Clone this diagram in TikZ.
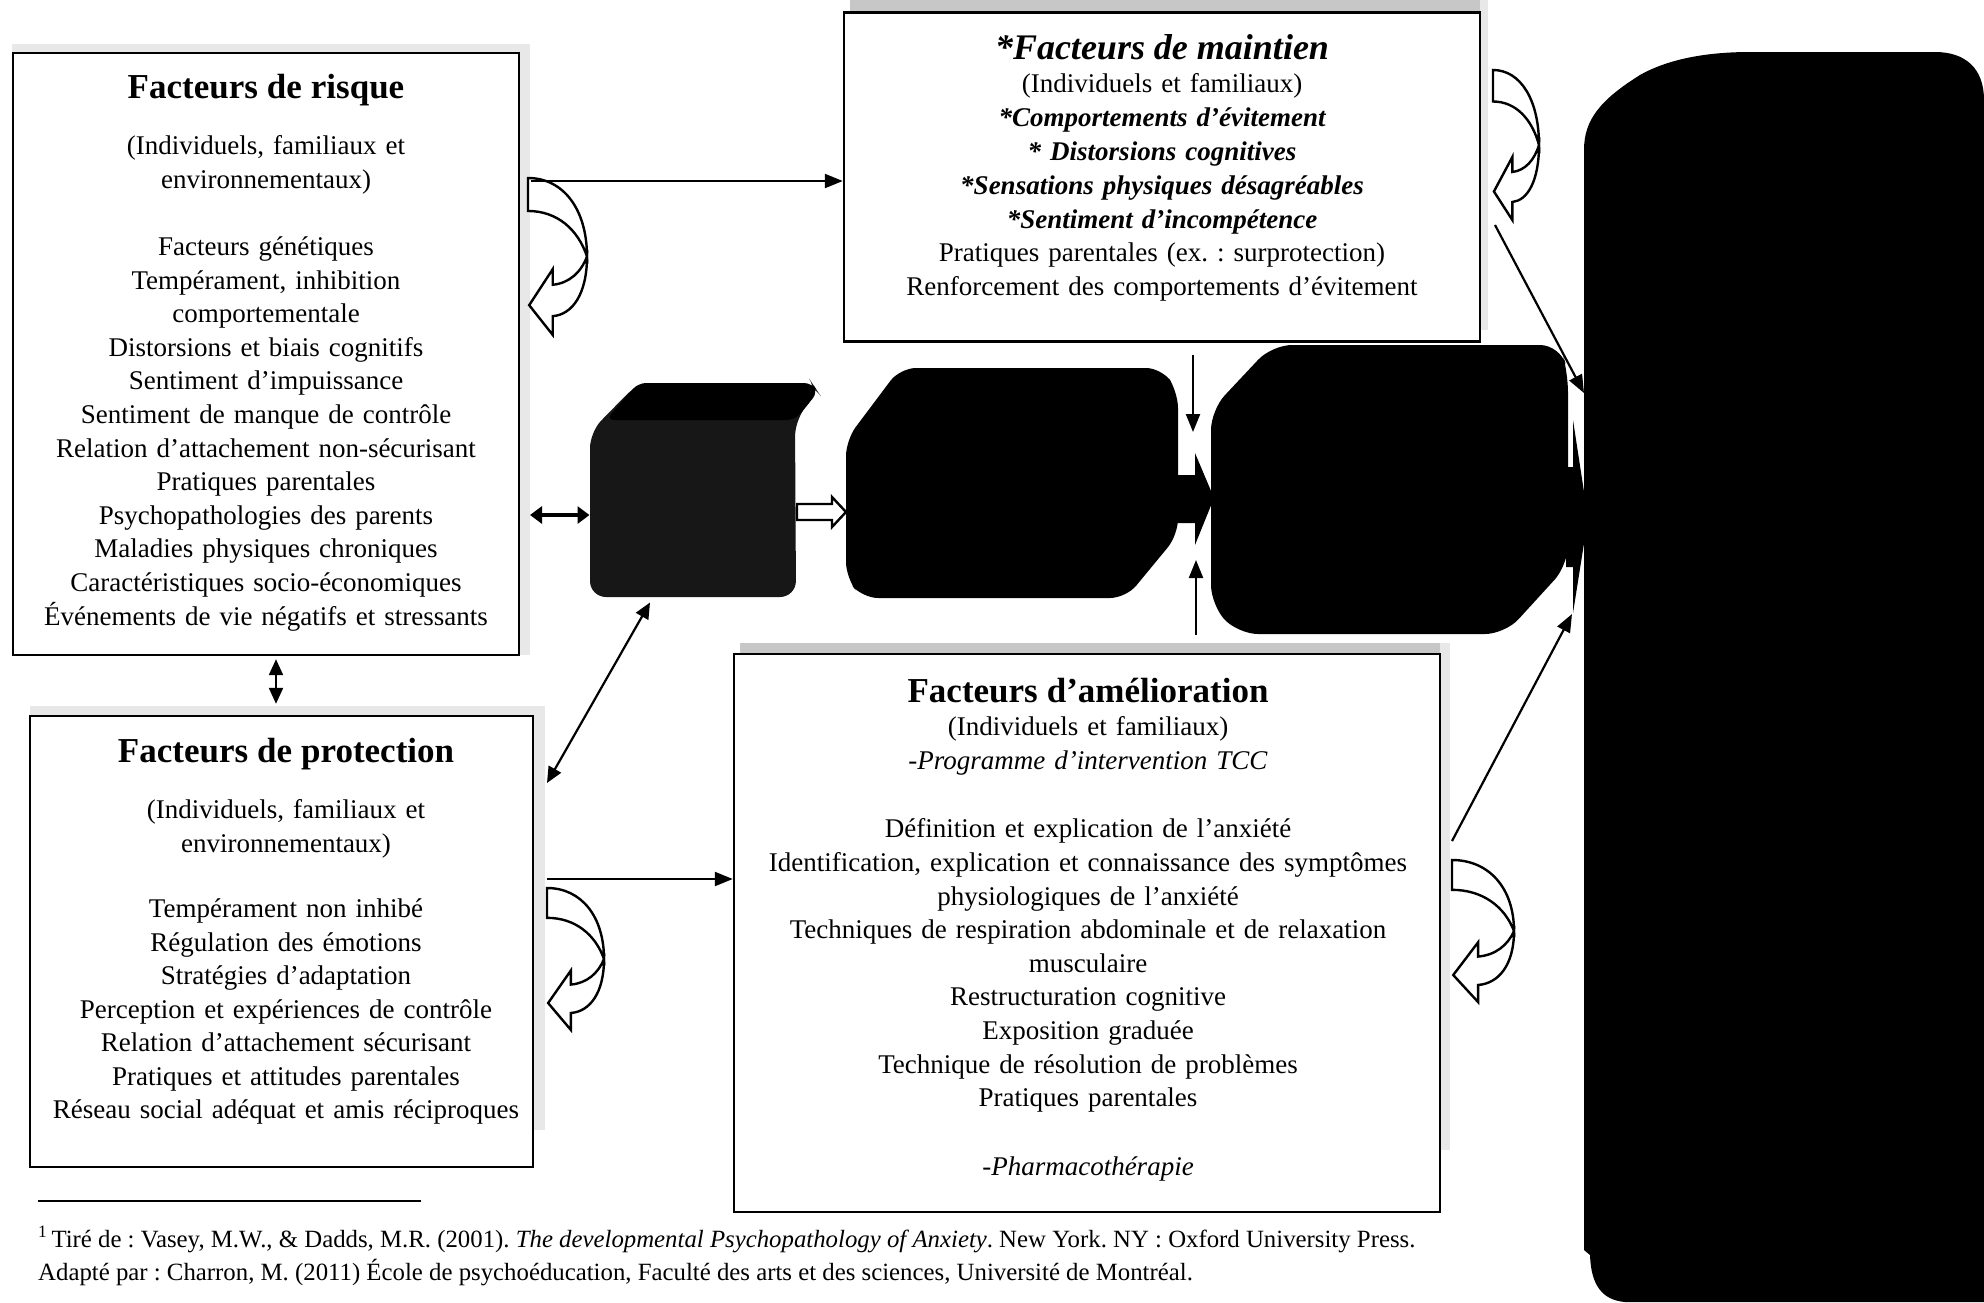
\documentclass[tikz,border=0pt]{standalone}
\usepackage{fontspec}
\setmainfont{Liberation Serif}
\usetikzlibrary{arrows.meta}
\frenchspacing
\newcommand\bodyfont{\fontsize{27}{33.6}\selectfont}
\newcommand\protfont{\fontsize{27}{33.5}\selectfont}
\newcommand\maintfont{\fontsize{27}{33.8}\selectfont}
\newcommand\ttlfont{\fontsize{35}{40}\selectfont\bfseries}
\newcommand\footfont{\fontsize{24.8}{33}\selectfont}
\newcommand\uturn[4]{%
  \begin{scope}[shift={(#1,#2)}, x=#3pt, y=-#4pt]
    \path[hollow] (1,0.5) .. controls (1,0.74) and (0.75,0.87) .. (0.42,0.88) -- (0.42,1) -- (0.02,0.81) -- (0.42,0.58) -- (0.42,0.68) .. controls (0.7,0.67) and (0.9,0.6) .. (1,0.5) -- cycle;
    \path[hollow] (0,0) .. controls (0.6,0) and (1,0.2) .. (1,0.5) .. controls (0.85,0.33) and (0.5,0.21) .. (0,0.21) -- cycle;
  \end{scope}}
\begin{document}
\begin{tikzpicture}[x=1pt,y=-1pt,
  boxst/.style={draw=black, line width=2.4pt, fill=white, inner sep=0pt},
  zone/.style={inner sep=0pt, outer sep=0pt},
  txt/.style={align=center, inner sep=0pt, text width=#1},
  arr/.style={line width=2.2pt, -{Triangle[length=18pt,width=14pt]}},
  dbl/.style={line width=2.2pt, {Triangle[length=16pt,width=14pt]}-{Triangle[length=16pt,width=14pt]}},
  dblthick/.style={line width=4pt, {Triangle[length=12pt,width=17pt]}-{Triangle[length=12pt,width=17pt]}},
  hollow/.style={draw=black, fill=white, line width=2.4pt, line join=miter},
  scan/.style={fill=black!9},
  scandark/.style={fill=black!22},
]
\useasboundingbox (0,0) rectangle (1984,1302);
\fill[white] (0,0) rectangle (1984,1302);

% scan shading
\fill[scan] (12,44) rectangle (524,53);
\fill[scan] (519,44) rectangle (530,655);
\fill[scandark] (850,0) rectangle (1480,11);
\fill[scan] (1480,0) rectangle (1488,330);
\fill[scandark] (740,643) rectangle (1450,654);
\fill[scan] (1440,643) rectangle (1450,1150);
\fill[scan] (30,706) rectangle (545,716);
\fill[scan] (533,706) rectangle (545,1130);

% boxes
\node[boxst, minimum width=506pt, minimum height=602pt] (risk) at (266,354) {};
\node[boxst, minimum width=636pt, minimum height=329pt] (maint) at (1162,177) {};
\node[boxst, minimum width=503pt, minimum height=451pt] (prot) at (281.5,941.5) {};
\node[boxst, minimum width=706pt, minimum height=558pt] (amel) at (1087,933) {};

% box texts
\node[txt=490pt, anchor=base, font=\bodyfont] (risktxt) at (266,98) {%
{\ttlfont Facteurs de risque}\\[23pt]
(Individuels, familiaux et\\
environnementaux)\\[33.6pt]
Facteurs génétiques\\
Tempérament, inhibition\\
comportementale\\
Distorsions et biais cognitifs\\
Sentiment d’impuissance\\
Sentiment de manque de contrôle\\
Relation d’attachement non-sécurisant\\
Pratiques parentales\\
Psychopathologies des parents\\
Maladies physiques chroniques\\
Caractéristiques socio-économiques\\
Événements de vie négatifs et stressants};

\node[txt=620pt, anchor=base, font=\maintfont] (mainttxt) at (1162,59) {%
{\fontsize{36}{40}\selectfont\bfseries\itshape *Facteurs de maintien}\\
(Individuels et familiaux)\\
{\bfseries\itshape *Comportements d’évitement}\\
{\bfseries\itshape * Distorsions cognitives}\\
{\bfseries\itshape *Sensations physiques désagréables}\\
{\bfseries\itshape *Sentiment d’incompétence}\\
Pratiques parentales (ex. : surprotection)\\
Renforcement des comportements d’évitement};

\node[txt=490pt, anchor=base, font=\protfont] (prottxt) at (286,762) {%
{\ttlfont Facteurs de protection}\\[23pt]
(Individuels, familiaux et\\
environnementaux)\\[32pt]
Tempérament non inhibé\\
Régulation des émotions\\
Stratégies d’adaptation\\
Perception et expériences de contrôle\\
Relation d’attachement sécurisant\\
Pratiques et attitudes parentales\\
Réseau social adéquat et amis réciproques};

\node[txt=690pt, anchor=base, font=\bodyfont] (ameltxt) at (1088,702) {%
{\ttlfont Facteurs d’amélioration}\\
(Individuels et familiaux)\\
\textit{-Programme d’intervention TCC}\\[35pt]
Définition et explication de l’anxiété\\
Identification, explication et connaissance des symptômes\\
physiologiques de l’anxiété\\
Techniques de respiration abdominale et de relaxation\\
musculaire\\
Restructuration cognitive\\
Exposition graduée\\
Technique de résolution de problèmes\\
Pratiques parentales\\[35pt]
\textit{-Pharmacothérapie}};

% dark shapes (zones)
\node[zone, minimum width=207pt, minimum height=215pt] (s1) at (693,490) {};
\node[zone, minimum width=332pt, minimum height=230pt] (s2) at (1012,483) {};
\node[zone, minimum width=357pt, minimum height=289pt] (s3) at (1390,489) {};
\node[zone, minimum width=400pt, minimum height=1250pt] (big) at (1784,677) {};

\fill[black!91, rounded corners=16pt] (638,383) -- (812,383) -- (818,392) -- (795,420) -- (796,597) -- (590,597) -- (590,432) -- cycle;
\fill[black, rounded corners=8pt] (638,383) -- (812,383) -- (818,392) -- (795,420) -- (606,420) -- cycle;

\fill[black, rounded corners=16pt] (846,440) -- (900,368) -- (1162,368) -- (1178,392) -- (1178,535) -- (1126,598) -- (862,598) -- (846,578) -- cycle;

\fill[black, rounded corners=20pt] (1211,410) -- (1272,345) -- (1560,345) -- (1568,372) -- (1568,565) -- (1505,634) -- (1238,634) -- (1211,605) -- cycle;

\fill[black] (1584,1250) -- (1584,150) .. controls (1584,120) and (1600,100) .. (1640,75) .. controls (1670,58) and (1710,52) .. (1750,52) -- (1935,52) .. controls (1965,52) and (1984,68) .. (1984,100) -- (1984,1302) -- (1625,1302) .. controls (1602,1300) and (1591,1285) .. (1590,1255) -- cycle;

% block arrows between dark shapes
\fill[black] (1176,475) -- (1195,475) -- (1195,453) -- (1214,498) -- (1195,545) -- (1195,523) -- (1176,523) -- cycle;
\fill[black] (1566,467) -- (1573,467) -- (1573,420) -- (1588,518) -- (1573,613) -- (1573,567) -- (1566,567) -- cycle;

% hollow double arrow s1 -> s2
\path[hollow] (797,504) -- (832,504) -- (832,497) -- (846,512) -- (832,527) -- (832,520) -- (797,520) -- cycle;

% U-turn arrows
\uturn{528}{178}{59}{157}
\uturn{1493}{70}{46}{150}
\uturn{547}{888}{57}{142}
\uturn{1452}{860}{62}{142}

% connectors
\coordinate (rmA) at (531,181);
\draw[arr] (rmA) -- (rmA -| maint.west);
\coordinate (rsA) at (530,515);
\draw[dblthick] (rsA) -- (rsA -| s1.west);
\draw[dbl] ([xshift=10pt,yshift=-3pt]risk.south) -- ([xshift=-5.5pt,yshift=11pt]prot.north);
\coordinate (psA) at (547,783);
\draw[dbl] (psA) -- ([xshift=-43pt,yshift=-5pt]s1.south);
\coordinate (paA) at (547,879);
\draw[arr] (paA) -- (paA -| amel.west);
\coordinate (mdA) at (1193,355);
\coordinate (mdB) at (1193,432);
\draw[arr] (mdA) -- (mdB);
\coordinate (auA) at (1196,635);
\coordinate (auB) at (1196,560);
\draw[arr] (auA) -- (auB);
\coordinate (mbA) at (1495,225);
\draw[arr] (mbA) -- ([yshift=-16pt]big.north west |- 0,377);
\coordinate (abA) at (1452,841);
\draw[arr] (abA) -- (1572,614);

% footnote
\draw[line width=2pt] (38,1201) -- (421,1201);
\node[anchor=base west, inner sep=0pt, font=\footfont] (foot1) at (38,1247) {\textsuperscript{1}\,Tiré de : Vasey, M.W., \& Dadds, M.R. (2001). \textit{The developmental Psychopathology of Anxiety}. New York. NY : Oxford University Press.};
\node[anchor=base west, inner sep=0pt, font=\footfont] (foot2) at (38,1280) {Adapté par : Charron, M. (2011) École de psychoéducation, Faculté des arts et des sciences, Université de Montréal.};
\end{tikzpicture}
\end{document}
